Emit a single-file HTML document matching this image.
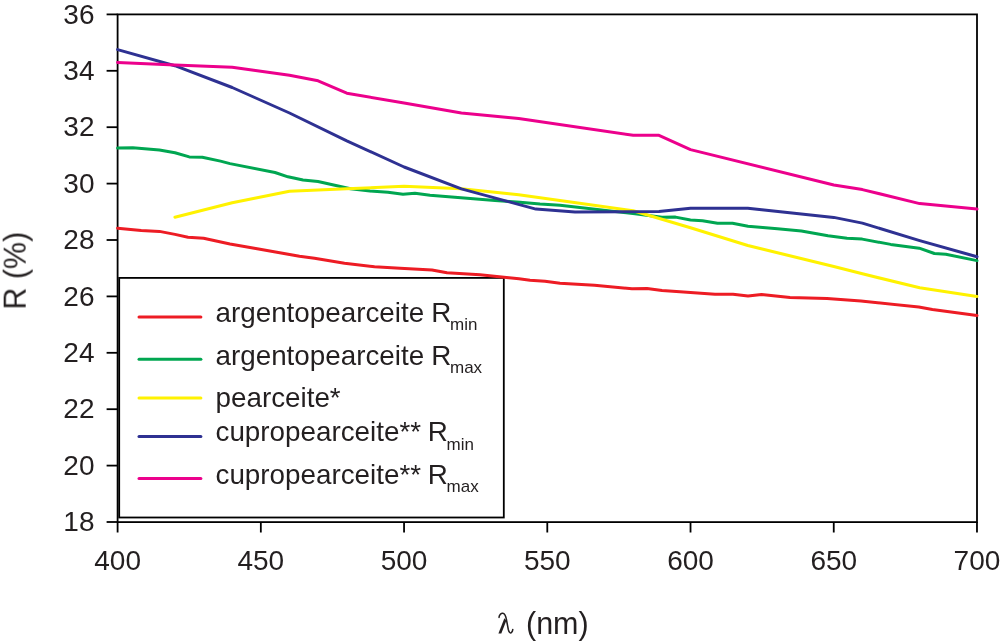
<!DOCTYPE html>
<html><head><meta charset="utf-8"><style>
html,body{margin:0;padding:0;background:#fff;width:1000px;height:644px;overflow:hidden}
svg{display:block}
text{font-family:"Liberation Sans",sans-serif;fill:#231f20}
</style></head><body>
<svg width="1000" height="644" viewBox="0 0 1000 644">

<rect x="119.2" y="277.9" width="384.6" height="239.6" fill="#fff" stroke="#000" stroke-width="1.8"/>
<g stroke="#000" stroke-width="1.8" fill="none" stroke-linecap="butt">
<rect x="117.6" y="14.4" width="859.4" height="507.7"/>
<line x1="106.6" y1="14.40" x2="117.6" y2="14.40"/>
<line x1="106.6" y1="70.80" x2="117.6" y2="70.80"/>
<line x1="106.6" y1="127.20" x2="117.6" y2="127.20"/>
<line x1="106.6" y1="183.60" x2="117.6" y2="183.60"/>
<line x1="106.6" y1="240.00" x2="117.6" y2="240.00"/>
<line x1="106.6" y1="296.40" x2="117.6" y2="296.40"/>
<line x1="106.6" y1="352.80" x2="117.6" y2="352.80"/>
<line x1="106.6" y1="409.20" x2="117.6" y2="409.20"/>
<line x1="106.6" y1="465.60" x2="117.6" y2="465.60"/>
<line x1="106.6" y1="522.00" x2="117.6" y2="522.00"/>
<line x1="117.60" y1="522.1" x2="117.60" y2="532.5"/>
<line x1="260.83" y1="522.1" x2="260.83" y2="532.5"/>
<line x1="404.06" y1="522.1" x2="404.06" y2="532.5"/>
<line x1="547.29" y1="522.1" x2="547.29" y2="532.5"/>
<line x1="690.52" y1="522.1" x2="690.52" y2="532.5"/>
<line x1="833.75" y1="522.1" x2="833.75" y2="532.5"/>
<line x1="976.98" y1="522.1" x2="976.98" y2="532.5"/>
</g>
<g style="opacity:0.999">
<text x="94.5" y="23.60" font-size="28" text-anchor="end">36</text>
<text x="94.5" y="80.00" font-size="28" text-anchor="end">34</text>
<text x="94.5" y="136.40" font-size="28" text-anchor="end">32</text>
<text x="94.5" y="192.80" font-size="28" text-anchor="end">30</text>
<text x="94.5" y="249.20" font-size="28" text-anchor="end">28</text>
<text x="94.5" y="305.60" font-size="28" text-anchor="end">26</text>
<text x="94.5" y="362.00" font-size="28" text-anchor="end">24</text>
<text x="94.5" y="418.40" font-size="28" text-anchor="end">22</text>
<text x="94.5" y="474.80" font-size="28" text-anchor="end">20</text>
<text x="94.5" y="531.20" font-size="28" text-anchor="end">18</text>
<text x="117.60" y="570" font-size="28" text-anchor="middle">400</text>
<text x="260.83" y="570" font-size="28" text-anchor="middle">450</text>
<text x="404.06" y="570" font-size="28" text-anchor="middle">500</text>
<text x="547.29" y="570" font-size="28" text-anchor="middle">550</text>
<text x="690.52" y="570" font-size="28" text-anchor="middle">600</text>
<text x="833.75" y="570" font-size="28" text-anchor="middle">650</text>
<text x="976.98" y="570" font-size="28" text-anchor="middle">700</text>
<path d="M499.0 617.4 C499.2 614.5 501.5 612.8 503 613.3 C505.5 614 506 617 506.5 620 L508.3 629.5 C509 632.5 510.5 633.6 511.5 632.5 C512.3 631.6 512.7 630.5 512.8 629.4" fill="none" stroke="#231f20" stroke-width="1.5" stroke-linecap="round"/>
<path d="M504.4 618.3 L506.4 620.4 L501.3 633.4 L498.4 633.4 Z" fill="#231f20"/>
<text x="526" y="633.8" font-size="30.5">(nm)</text>
<text transform="translate(25.8,309.6) rotate(-90) scale(0.983,1.04)" font-size="31">R (%)</text>
<line x1="139" y1="316.9" x2="200.9" y2="316.9" stroke="#ed1c24" stroke-width="3.0" stroke-linecap="round"/>
<text x="215.5" y="321.8" font-size="27.8">argentopearceite <tspan x="431.2">R</tspan><tspan x="450.0" font-size="17" dy="8.6">min</tspan></text>
<line x1="139" y1="359.3" x2="200.9" y2="359.3" stroke="#00a651" stroke-width="3.0" stroke-linecap="round"/>
<text x="215.5" y="364.5" font-size="27.8">argentopearceite <tspan x="431.2">R</tspan><tspan x="450.0" font-size="17" dy="8.6">max</tspan></text>
<line x1="139" y1="398.0" x2="200.9" y2="398.0" stroke="#fff200" stroke-width="3.0" stroke-linecap="round"/>
<text x="215.5" y="406.8" font-size="27.8">pearceite*</text>
<line x1="139" y1="436.4" x2="200.9" y2="436.4" stroke="#2e3192" stroke-width="3.0" stroke-linecap="round"/>
<text x="215.5" y="441.1" font-size="27.8">cupropearceite** <tspan x="427.8">R</tspan><tspan x="446.6" font-size="17" dy="8.6">min</tspan></text>
<line x1="139" y1="478.5" x2="200.9" y2="478.5" stroke="#ec008c" stroke-width="3.0" stroke-linecap="round"/>
<text x="215.5" y="483.5" font-size="27.8">cupropearceite** <tspan x="427.8">R</tspan><tspan x="446.6" font-size="17" dy="8.6">max</tspan></text>
</g>
<polyline points="117.6,228.2 141.2,230.5 159.4,231.4 175.0,234.4 188.0,237.3 203.6,238.3 230.0,244.0 260.0,249.2 275.5,252.0 299.5,256.2 314.5,258.3 344.5,263.2 374.5,266.7 400.0,268.2 432.0,270.0 447.0,272.7 480.0,274.8 504.0,277.2 519.0,278.7 530.0,280.2 545.0,281.2 560.0,283.2 594.5,285.3 632.0,288.8 647.0,288.4 662.0,290.6 680.0,291.8 715.0,294.2 733.0,294.2 748.0,296.0 761.5,294.5 790.0,297.4 827.0,298.6 861.0,301.1 918.8,307.1 932.4,309.6 977.0,315.6" fill="none" stroke="#ed1c24" stroke-width="3.0" stroke-linejoin="round" stroke-linecap="round"/>
<polyline points="117.6,148.1 132.8,147.8 159.4,150.1 175.0,152.7 189.3,156.9 202.3,157.2 220.5,161.1 230.0,163.6 275.0,172.5 288.0,176.8 303.0,180.0 318.0,181.5 337.0,185.8 350.5,188.8 370.0,191.0 388.0,192.2 403.0,194.3 415.0,193.2 430.0,195.2 495.0,200.4 520.0,202.3 540.0,204.0 560.0,205.2 635.0,213.8 662.0,217.3 675.5,217.1 690.5,220.0 702.5,220.7 717.5,223.3 732.5,223.3 748.0,226.3 777.5,228.7 801.4,230.9 828.0,235.8 847.0,238.3 862.2,239.1 890.7,244.4 919.2,248.2 934.4,253.5 945.8,254.3 977.0,260.6" fill="none" stroke="#00a651" stroke-width="3.0" stroke-linejoin="round" stroke-linecap="round"/>
<polyline points="174.9,217.2 232.2,202.8 289.5,191.3 346.8,188.8 404.1,186.2 461.4,188.8 518.7,194.8 576.0,202.8 633.2,210.7 690.5,227.8 747.8,245.5 833.8,266.5 862.4,273.8 919.7,287.8 977.0,296.4" fill="none" stroke="#fff200" stroke-width="3.0" stroke-linejoin="round" stroke-linecap="round"/>
<polyline points="117.6,49.6 174.9,65.7 232.2,87.5 289.5,113.0 346.8,140.8 404.1,167.0 461.4,188.9 535.9,209.1 575.0,211.9 659.0,211.6 690.5,208.2 747.8,208.2 833.8,217.4 862.4,223.1 919.7,240.6 977.0,256.8" fill="none" stroke="#2e3192" stroke-width="3.0" stroke-linejoin="round" stroke-linecap="round"/>
<polyline points="117.6,62.5 174.9,65.1 232.2,67.2 289.5,75.3 318.1,80.8 346.8,93.2 404.1,103.1 461.4,113.0 518.7,118.5 633.2,135.3 659.0,135.3 690.5,149.6 833.8,185.0 862.4,189.6 919.7,203.6 977.0,209.1" fill="none" stroke="#ec008c" stroke-width="3.0" stroke-linejoin="round" stroke-linecap="round"/>
</svg></body></html>
